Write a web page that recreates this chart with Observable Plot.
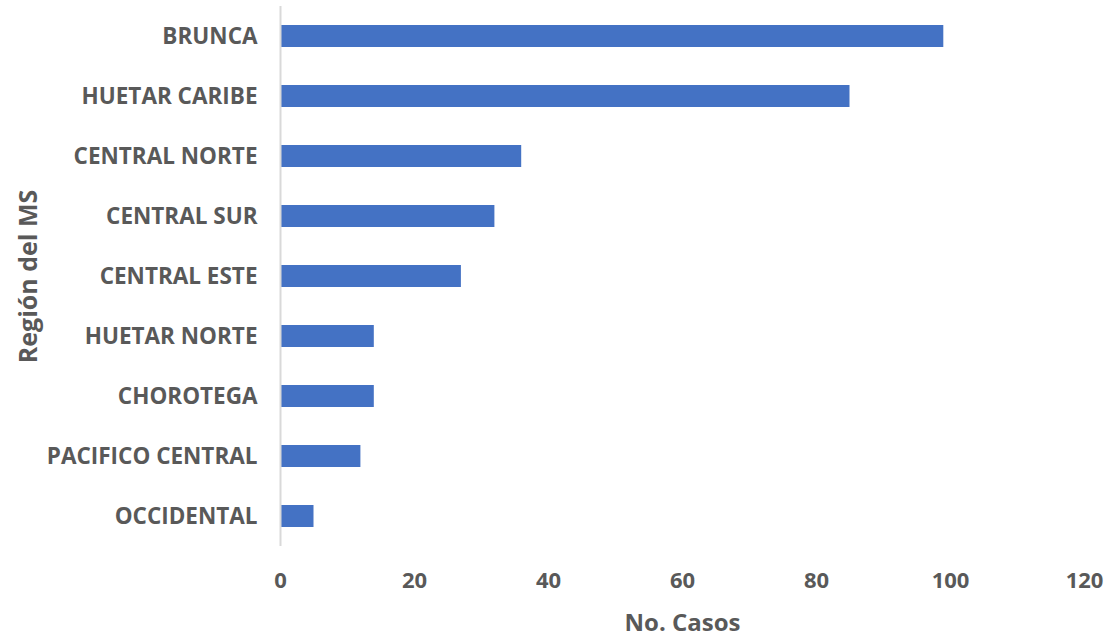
<!DOCTYPE html>
<html>
<head>
<meta charset="utf-8">
<script src="https://cdn.jsdelivr.net/npm/d3@7"></script>
<script src="https://cdn.jsdelivr.net/npm/@observablehq/plot@0.6"></script>
<style>
  html, body { margin: 0; padding: 0; background: #ffffff; }
  #chart svg { display: block; }
  #chart svg text { font-family: "Open Sans", sans-serif; font-weight: 700; }
</style>
</head>
<body>
<div id="chart"></div>
<script>
const regions = ["BRUNCA", "HUETAR CARIBE", "CENTRAL NORTE", "CENTRAL SUR", "CENTRAL ESTE", "HUETAR NORTE", "CHOROTEGA", "PACIFICO CENTRAL", "OCCIDENTAL"];
const casos = [99, 85, 36, 32, 27, 14, 14, 12, 5];
const xTicks = [0, 20, 40, 60, 80, 100, 120];
const xTitle = "No. Casos";
const yTitle = "Región del MS";

const data = regions.map((r, i) => ({region: r, casos: casos[i]}));

const chart = Plot.plot({
  width: 1108,
  height: 642,
  marginLeft: 280,
  marginRight: 24,
  marginTop: 6,
  marginBottom: 96,
  style: {color: "#595959", fontSize: "22px", background: "#ffffff"},
  x: {domain: [0, 120], ticks: xTicks},
  y: {domain: regions, paddingInner: 0.63, paddingOuter: 0.315},
  marks: [
    Plot.barX(data, {x: "casos", y: "region", fill: "#4472C4"}),
    Plot.ruleX([0], {stroke: "#d9d9d9", strokeWidth: 2}),
    Plot.axisX({ticks: xTicks, tickSize: 0, tickPadding: 26, label: null, fontSize: 22}),
    Plot.axisY({tickSize: 0, tickPadding: 23, label: null, fontSize: 22.5}),
    Plot.text([xTitle], {frameAnchor: "bottom", dy: 84, fontSize: 24, fill: "#595959"}),
    Plot.text([yTitle], {frameAnchor: "left", textAnchor: "middle", dx: -252, rotate: -90, fontSize: 25, fill: "#595959"})
  ]
});
document.getElementById("chart").appendChild(chart);
</script>
</body>
</html>
